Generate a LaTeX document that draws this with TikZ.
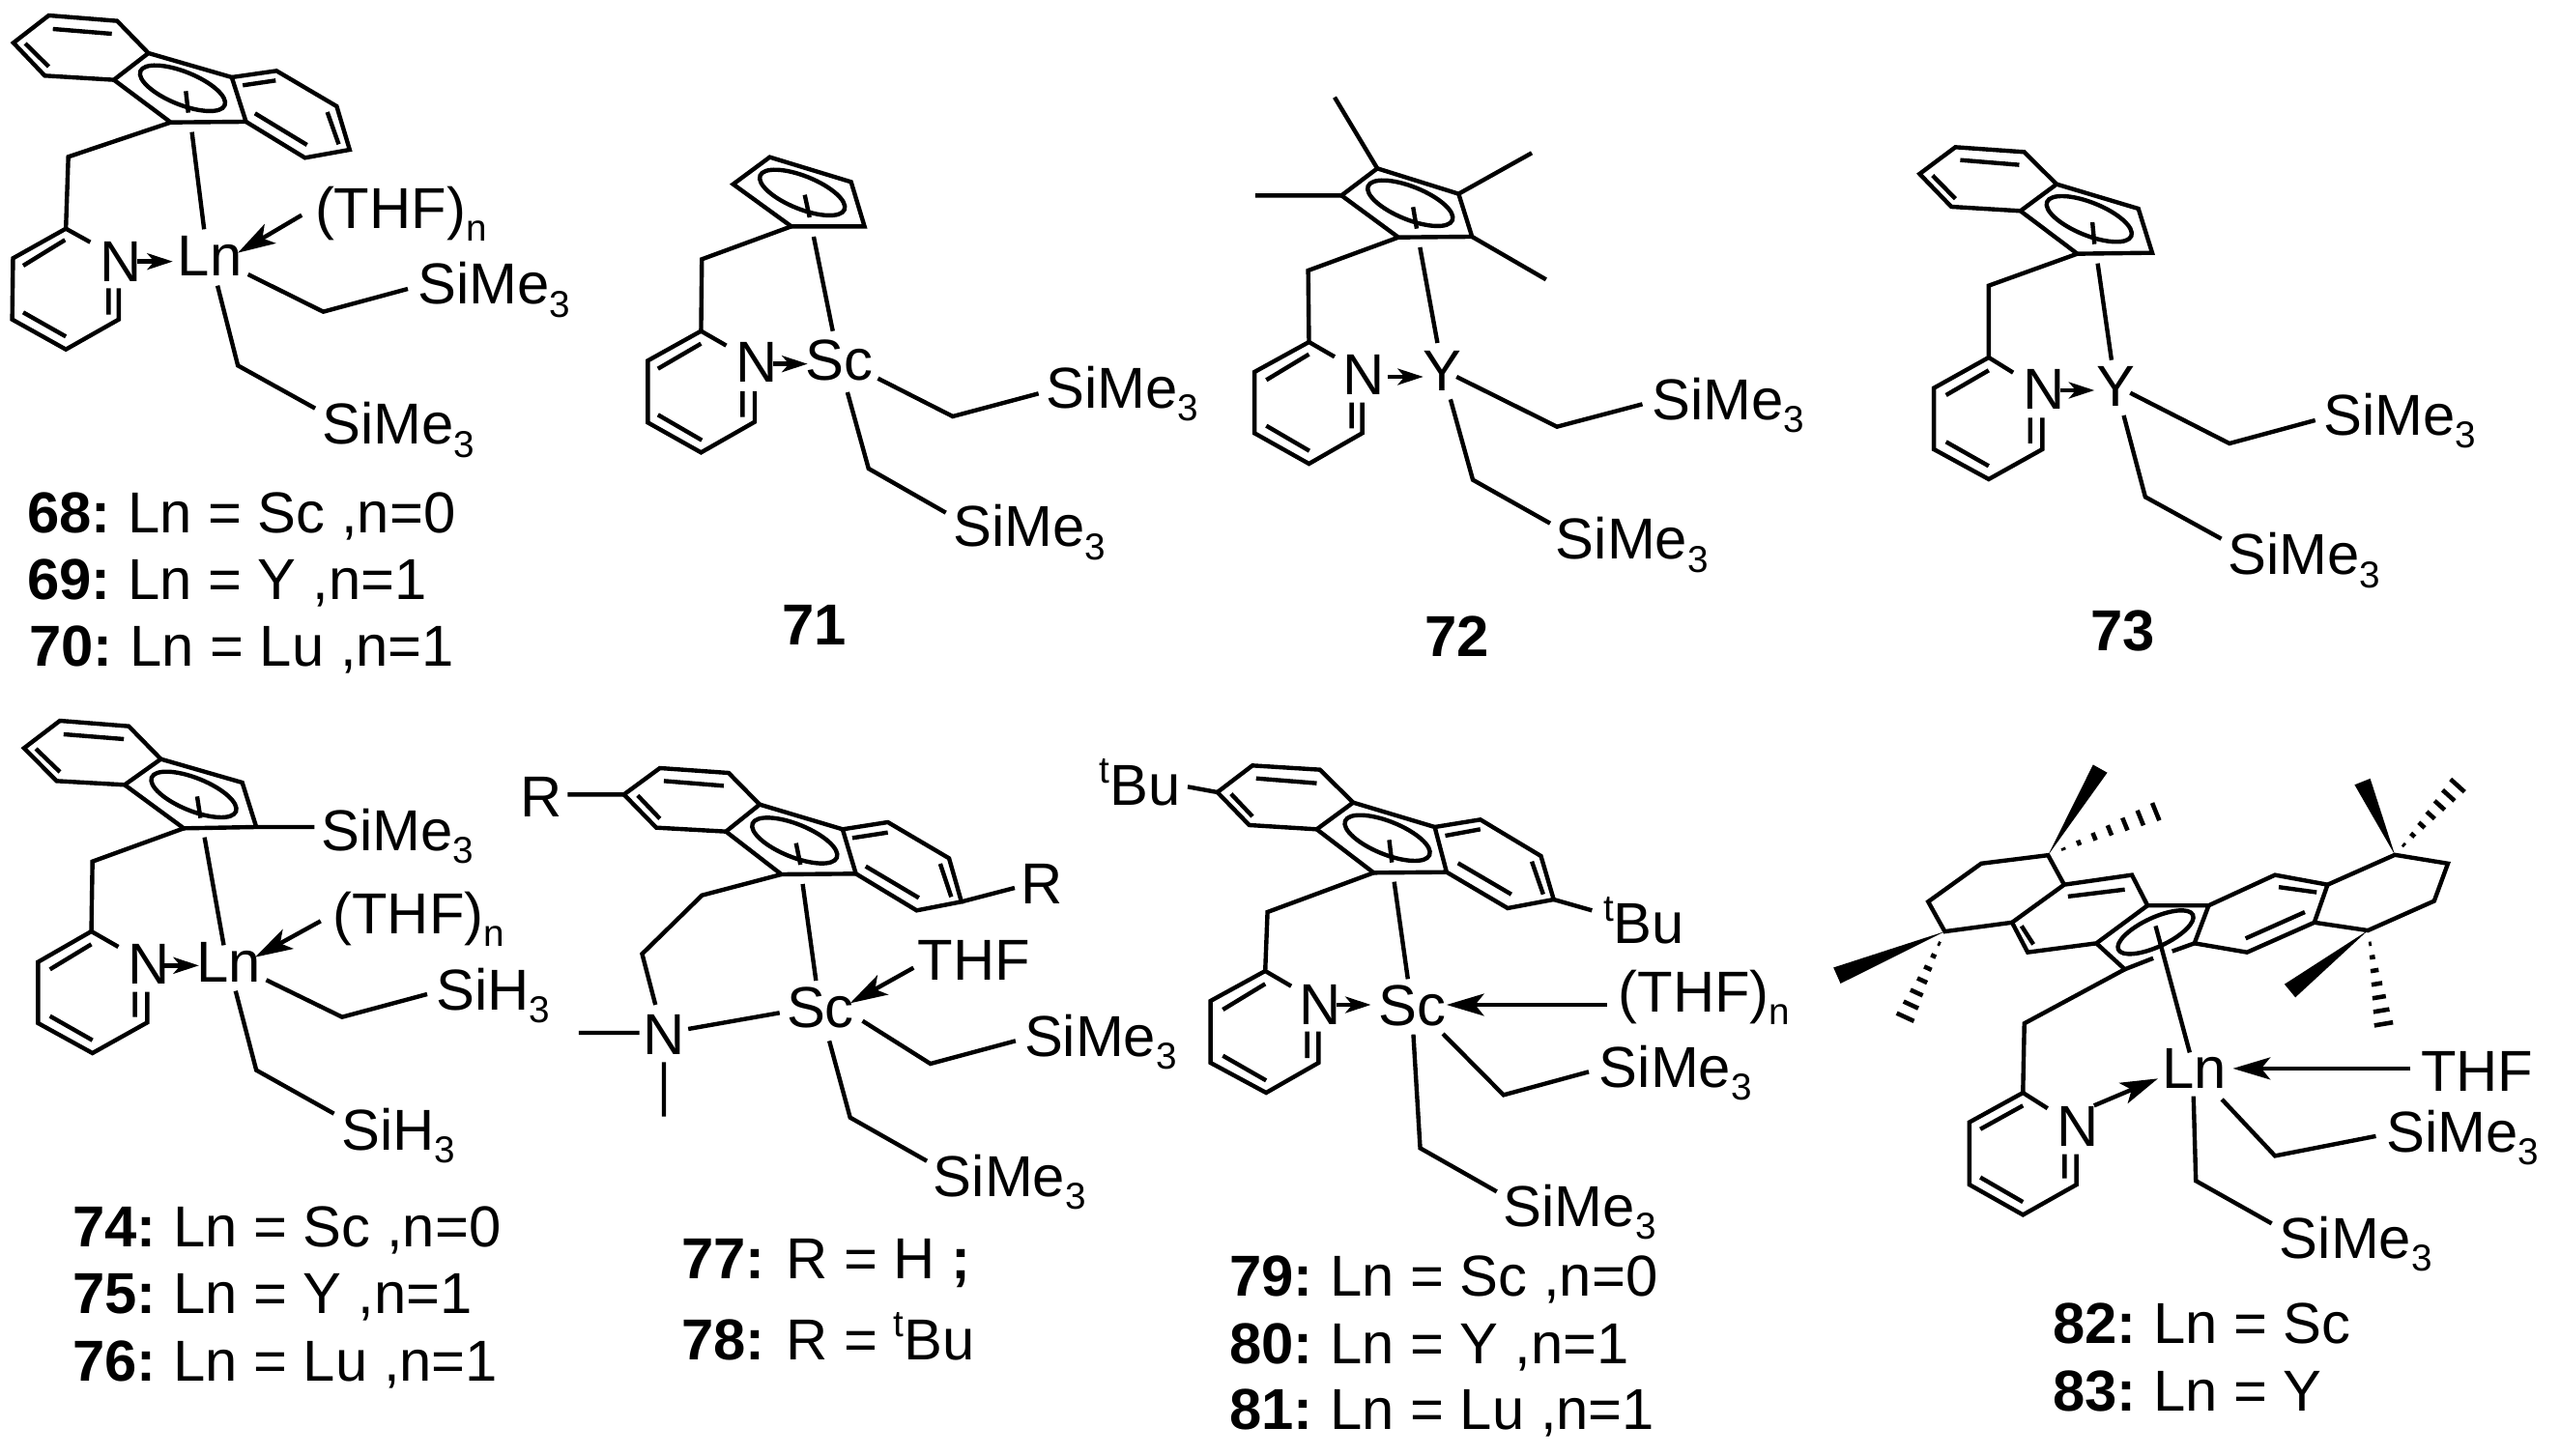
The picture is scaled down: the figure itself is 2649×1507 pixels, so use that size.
\documentclass[tikz,border=0pt]{standalone}
\usepackage{fontspec}
\setmainfont{Liberation Sans}
\usetikzlibrary{arrows.meta,calc}
\tikzset{
  crop/.style n args={3}{shift={(#1*0.01cm,-#2*0.01cm)},x={0.01cm/#3},y={-0.01cm/3}},
  crop82/.style n args={2}{shift={(#1*0.01cm,-#2*0.01cm)},x={0.01cm/2.039},y={-0.01cm/2.786}},
  txt/.style={anchor=base west,inner sep=0pt,outer sep=0pt,font=\fontsize{17}{19}\selectfont},
  captxt/.style={anchor=base west,inner sep=0pt,outer sep=0pt,font=\fontsize{17}{19}\selectfont},
  smallarrow/.style={-{Stealth[length=7.5pt,width=4.8pt,inset=2pt]}},
  bigarrow/.style={-{Stealth[length=11pt,width=6.5pt,inset=2.6pt]}},
}
\newcommand\sbs[1]{\raisebox{-3.7pt}{\fontsize{11}{12}\selectfont #1}}
\newcommand\sps[1]{\raisebox{6.6pt}{\fontsize{11}{12}\selectfont #1}}
\newcommand\lbl[4]{\node[txt] (#1) at (#2,#3) {#4};}
\newcommand\capt[4]{\node[captxt] (#1) at (#2,#3) {#4};}
\newcommand\nm[1]{\textbf{#1:}\kern-1.2pt\relax}
\newcommand\ering[2]{\draw[rotate around={-22:(#1,#2)}] (#1,#2) ellipse [x radius=0.47cm,y radius=0.17cm];}
\newcommand\hashb[2]{\foreach \t in {0.14,0.28,0.42,0.56,0.70,0.84,0.98}{%
  \pgfmathsetmacro\w{\t*0.1}%
  \coordinate (hc) at ($#1!\t!#2$);
  \draw[line width=1.3pt] ($(hc)!\w cm!90:#2$) -- ($(hc)!\w cm!-90:#2$);}}
\begin{document}
\begin{tikzpicture}[x=0.01cm,y=-0.01cm,line width=1.25pt,line join=miter]
\useasboundingbox (0,0) rectangle (2649,1507);
% ---------- 68-70
\begin{scope}[crop={0}{0}{2.376}]
\draw (120,48)--(288,65)--(365,165)--(280,248)--(110,235)--(33,133)--cycle;
\draw (130,90)--(275,105) (62,135)--(120,207);
\draw (365,165)--(570,240)--(605,378)--(420,380)--(280,248);
\draw (570,240)--(680,220)--(828,330)--(860,465)--(750,490)--(605,378);
\draw (597,265)--(678,250) (805,348)--(833,448) (627,352)--(755,450);
\ering{449}{274}
\draw (457,283)--(463,350) (472,410)--(502,712);
\draw (420,380)--(168,487)--(162,710);
\draw (222,752)--(162,710)--(32,802)--(30,992)--(162,1085)--(292,992)--(292,895);
\draw (267,895)--(267,977) (160,745)--(57,825) (57,970)--(162,1045);
\lbl{n68N}{247}{875}{N}
\lbl{n68Ln}{437}{858}{Ln}
\lbl{n68T}{775}{710}{(THF)\sbs{n}}
\draw[smallarrow] (338,812)--(425,812);
\draw[bigarrow] (742,668)--(585,785);
\draw (610,852)--(795,968)--(1003,897);
\lbl{n68S}{1028}{945}{SiMe\sbs{3}}
\draw (535,887)--(585,1135)--(775,1268);
\lbl{n68Sb}{793}{1380}{SiMe\sbs{3}}
\end{scope}
% ---------- 71
\begin{scope}[crop={640}{60}{2.376}]
\draw (372,308)--(572,385)--(605,523)--(425,523)--(282,392)--cycle;
\ering{452}{418}
\draw (458,425)--(470,495) (480,555)--(527,848);
\draw (425,523)--(205,625)--(203,848);
\draw (265,893)--(203,848)--(72,940)--(72,1132)--(203,1225)--(335,1130)--(335,1035);
\draw (305,1035)--(305,1115) (203,887)--(97,965) (97,1108)--(205,1187);
\lbl{n71N}{289}{1008}{N}
\lbl{n71Sc}{460}{1000}{Sc}
\draw[smallarrow] (380,950)--(465,950);
\draw (638,995)--(822,1113)--(1033,1042);
\lbl{n71S}{1052}{1088}{SiMe\sbs{3}}
\draw (563,1038)--(615,1275)--(805,1412);
\lbl{n71Sb}{823}{1518}{SiMe\sbs{3}}
\end{scope}
% ---------- 72
\begin{scope}[crop={1280}{80}{2.376}]
\draw (345,283)--(545,362)--(578,495)--(397,497)--(257,367)--cycle;
\draw (345,283)--(240,62) (545,362)--(725,235) (578,495)--(760,628) (257,367)--(45,367);
\ering{426}{391}
\draw (433,403)--(442,470) (450,528)--(493,825);
\draw (397,497)--(175,600)--(177,822);
\draw (240,868)--(177,822)--(43,915)--(43,1105)--(177,1200)--(308,1105)--(308,1010);
\draw (282,1010)--(282,1090) (177,860)--(72,940) (72,1082)--(178,1160);
\lbl{n72N}{260}{985}{N}
\lbl{n72Y}{458}{975}{Y}
\draw[smallarrow] (370,930)--(458,930);
\draw (540,930)--(787,1085)--(997,1015);
\lbl{n72S}{1021}{1063}{SiMe\sbs{3}}
\draw (525,1000)--(580,1250)--(770,1385);
\lbl{n72Sb}{784}{1497}{SiMe\sbs{3}}
\end{scope}
% ---------- 73
\begin{scope}[crop={1980}{120}{2.376}]
\draw (103,97)--(272,112)--(352,212)--(263,295)--(93,282)--(15,180)--cycle;
\draw (115,137)--(260,152) (47,185)--(103,257);
\draw (352,212)--(553,288)--(587,425)--(403,428)--(263,295);
\ering{432}{320}
\draw (440,330)--(445,398) (453,458)--(487,758);
\draw (403,428)--(185,527)--(185,750);
\draw (245,797)--(185,750)--(50,845)--(50,1035)--(185,1128)--(317,1035)--(317,937);
\draw (287,937)--(287,1017) (185,790)--(80,867) (80,1012)--(185,1087);
\lbl{n73N}{270}{912}{N}
\lbl{n73Y}{450}{903}{Y}
\draw[smallarrow] (360,852)--(445,852);
\draw (533,860)--(777,1017)--(988,945);
\lbl{n73S}{1009}{992}{SiMe\sbs{3}}
\draw (517,930)--(570,1183)--(757,1313);
\lbl{n73Sb}{774}{1425}{SiMe\sbs{3}}
\end{scope}
% ---------- 74-76
\begin{scope}[crop={0}{730}{2.613}]
\draw (162,48)--(348,65)--(435,167)--(337,247)--(153,235)--(65,133)--cycle;
\draw (172,90)--(335,105) (97,135)--(162,207);
\draw (435,167)--(655,240)--(693,378);
\draw (850,378)--(693,378)--(497,382)--(337,247);
\ering{524}{277}
\draw (533,283)--(542,350) (553,410)--(605,745);
\draw (497,382)--(250,485)--(247,702);
\draw (320,750)--(247,702)--(103,797)--(103,987)--(250,1080)--(398,985)--(398,890);
\draw (365,890)--(365,968) (247,742)--(135,820) (135,965)--(250,1040);
\lbl{n74N}{347}{865}{N}
\lbl{n74Ln}{532}{858}{Ln}
\lbl{n74T}{900}{710}{(THF)\sbs{n}}
\lbl{n74Sa}{869}{450}{SiMe\sbs{3}}
\draw[smallarrow] (445,808)--(538,808);
\draw[bigarrow] (867,670)--(690,782);
\draw (720,853)--(925,968)--(1155,897);
\lbl{n74S}{1179}{945}{SiH\sbs{3}}
\draw (637,887)--(693,1133)--(903,1268);
\lbl{n74Sb}{924}{1380}{SiH\sbs{3}}
\end{scope}
% ---------- 77-78
\begin{scope}[crop={530}{770}{2.178}]
\draw (333,75)--(488,90)--(558,188)--(482,272)--(325,260)--(252,157)--cycle;
\draw (342,115)--(477,130) (283,160)--(333,232) (125,157)--(252,157);
\draw (558,188)--(745,265)--(775,403)--(607,405)--(482,272);
\draw (745,265)--(847,243)--(985,355)--(1013,490)--(912,517)--(775,403);
\draw (767,292)--(847,275) (965,372)--(990,475) (797,380)--(917,478) (1013,490)--(1133,447);
\ering{637}{300}
\lbl{n77R}{18}{228}{R}
\lbl{n77Rb}{1148}{495}{R}
\draw (640,308)--(650,375) (655,435)--(685,735);
\draw (607,405)--(428,470)--(293,652)--(323,810);
\lbl{n77N}{296}{965}{N}
\draw (150,897)--(287,897) (342,988)--(342,1157) (397,885)--(603,835);
\lbl{n77Sc}{619}{880}{Sc}
\draw[bigarrow] (905,695)--(762,805);
\lbl{n77T}{915}{732}{THF}
\draw (790,860)--(943,993)--(1135,922);
\lbl{n77S}{1155}{970}{SiMe\sbs{3}}
\draw (715,922)--(762,1160)--(935,1295);
\lbl{n77Sb}{950}{1405}{SiMe\sbs{3}}
\end{scope}
% ---------- 79-81
\begin{scope}[crop={1130}{770}{2.119}]
\draw (352,67)--(500,80)--(573,182)--(493,265)--(345,252)--(275,150)--cycle;
\draw (360,107)--(493,122) (305,155)--(352,225) (210,133)--(275,150);
\draw (573,182)--(752,258)--(778,398)--(618,400)--(493,265);
\draw (752,258)--(852,235)--(985,348)--(1013,483)--(912,510)--(778,398);
\draw (775,285)--(852,265) (965,365)--(990,467) (803,370)--(920,467) (1013,483)--(1097,517);
\ering{648}{292}
\lbl{n79B}{16}{190}{\sps{t}Bu}
\lbl{n79Bb}{1122}{620}{\sps{t}Bu}
\draw (652,298)--(658,368) (663,428)--(693,730);
\draw (618,400)--(385,522)--(380,705);
\draw (437,752)--(380,705)--(260,798)--(260,990)--(382,1083)--(497,990)--(497,893);
\draw (472,893)--(472,975) (380,745)--(287,825) (287,968)--(382,1045);
\lbl{n79N}{455}{872}{N}
\lbl{n79Sc}{629}{875}{Sc}
\draw[smallarrow] (537,810)--(612,810);
\draw[bigarrow] (1130,810)--(778,810);
\lbl{n79T}{1155}{832}{(THF)\sbs{n}}
\draw (770,900)--(903,1090)--(1090,1018);
\lbl{n79S}{1113}{1065}{SiMe\sbs{3}}
\draw (705,902)--(720,1255)--(888,1390);
\lbl{n79Sb}{903}{1497}{SiMe\sbs{3}}
\end{scope}
% ---------- 82-83
\begin{scope}[crop82={1880}{780}]
\draw (522,378)--(665,350)--(698,438)--(590,547)--(445,573)--(412,487)--cycle;
\draw (530,412)--(650,392) (432,497)--(457,550);
\draw (522,378)--(488,293)--(347,317)--(235,427)--(270,513)--(412,487);
\fill (488,293)--(583,32)--(613,55)--cycle;
\hashb{(488,293)}{(720,165)}
\fill (270,513)--(35,617)--(50,663)--cycle;
\hashb{(270,513)}{(185,765)}
\draw (698,438)--(827,438)--(797,547)--(750,570);
\draw (710,590)--(650,622)--(590,547);
\draw[rotate around={25:(715,515)}] (715,515) ellipse [x radius=0.425cm,y radius=0.15cm];
\draw (715,497)--(787,862);
\draw (827,438)--(967,350)--(1078,378)--(1050,487)--(908,573)--(797,547);
\draw (975,385)--(1055,400) (905,533)--(1030,457);
\draw (1078,378)--(1220,292)--(1332,317)--(1303,425)--(1163,510)--(1050,487);
\fill (1220,292)--(1135,90)--(1168,72)--cycle;
\hashb{(1220,292)}{(1355,88)}
\fill (1163,510)--(987,665)--(1010,703)--cycle;
\hashb{(1163,510)}{(1197,785)}
\draw (650,622)--(438,778)--(435,978);
\draw (487,1023)--(435,978)--(322,1063)--(322,1243)--(435,1330)--(548,1243)--(548,1155);
\draw (523,1155)--(523,1225) (435,1015)--(345,1083) (345,1222)--(435,1293);
\lbl{n82N}{506}{1133}{N}
\lbl{n82Ln}{729}{965}{Ln}
\draw[bigarrow] (585,1015)--(720,937);
\draw[bigarrow] (1253,908)--(878,908);
\lbl{n82T}{1275}{975}{THF}
\draw (855,997)--(967,1160)--(1180,1103);
\lbl{n82S}{1202}{1150}{SiMe\sbs{3}}
\draw (795,988)--(800,1232)--(960,1355);
\lbl{n82Sb}{977}{1457}{SiMe\sbs{3}}
\end{scope}
% ---------- captions
\capt{c68}{28}{552}{\nm{68} Ln = Sc ,n=0}
\capt{c69}{28}{621}{\nm{69} Ln = Y ,n=1}
\capt{c70}{30}{690}{\nm{70} Ln = Lu ,n=1}
\capt{c71}{809}{668}{\textbf{71}}
\capt{c72}{1474}{680}{\textbf{72}}
\capt{c73}{2163}{674}{\textbf{73}}
\capt{c74}{75}{1290}{\nm{74} Ln = Sc ,n=0}
\capt{c75}{75}{1359}{\nm{75} Ln = Y ,n=1}
\capt{c76}{75}{1429}{\nm{76} Ln = Lu ,n=1}
\capt{c77}{705}{1323}{\textbf{77:} R = H \textbf{;}}
\capt{c78}{705}{1407}{\textbf{78:} R = \sps{t}Bu}
\capt{c79}{1272}{1341}{\nm{79} Ln = Sc ,n=0}
\capt{c80}{1272}{1411}{\nm{80} Ln = Y ,n=1}
\capt{c81}{1272}{1479}{\nm{81} Ln = Lu ,n=1}
\capt{c82}{2124}{1390}{\nm{82} Ln = Sc}
\capt{c83}{2124}{1460}{\nm{83} Ln = Y}
\end{tikzpicture}
\end{document}
